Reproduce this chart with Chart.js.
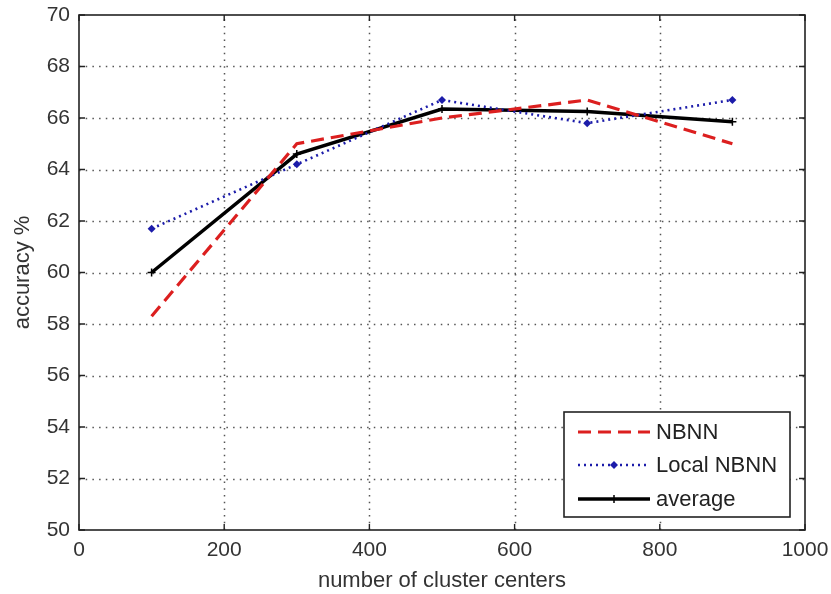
<!DOCTYPE html>
<html>
<head>
<meta charset="utf-8">
<script src="https://cdn.jsdelivr.net/npm/chart.js@4/dist/chart.umd.min.js"></script>
<style>
  html, body { margin: 0; padding: 0; background: #fff; }
  #wrap { width: 831px; height: 594px; position: relative; }
</style>
</head>
<body>
<div id="wrap"><canvas id="c"></canvas></div>
<script>
// ---- data ----
const clusterCenters = [100, 300, 500, 700, 900];
const nbnn = [58.3, 65.0, 66.0, 66.7, 65.0];
const localNbnn = [61.7, 64.2, 66.7, 65.8, 66.7];
const average = [60.0, 64.6, 66.35, 66.25, 65.85];
const seriesLabels = ['NBNN', 'Local NBNN', 'average'];
const xTitle = 'number of cluster centers';
const yTitle = 'accuracy %';

const FONT = "'Liberation Sans', Arial, sans-serif";
const toXY = (ys) => ys.map((y, i) => ({ x: clusterCenters[i], y }));

const boxPlugin = {
  id: 'matlabBox',
  beforeDatasetsDraw(chart) {
    const { ctx, chartArea: a, scales: { x, y } } = chart;
    ctx.save();
    ctx.strokeStyle = '#555';
    ctx.lineWidth = 1.5;
    ctx.setLineDash([1.5, 5.2]);
    x.ticks.forEach(t => {
      const px = Math.round(x.getPixelForValue(t.value)) + 0.5;
      if (px <= a.left + 1 || px >= a.right - 1) return;
      ctx.beginPath(); ctx.moveTo(px, a.bottom); ctx.lineTo(px, a.top); ctx.stroke();
    });
    y.ticks.forEach(t => {
      const py = Math.round(y.getPixelForValue(t.value)) + 0.5;
      if (py <= a.top + 1 || py >= a.bottom - 1) return;
      ctx.beginPath(); ctx.moveTo(a.left, py); ctx.lineTo(a.right, py); ctx.stroke();
    });
    ctx.restore();
  },
  afterDraw(chart) {
    const { ctx, chartArea: a, scales: { x, y } } = chart;
    ctx.save();
    ctx.setLineDash([]);
    ctx.strokeStyle = '#222';
    ctx.lineWidth = 1.6;
    ctx.strokeRect(a.left, a.top, a.right - a.left, a.bottom - a.top);
    const tl = 6;
    ctx.lineWidth = 1.4;
    x.ticks.forEach(t => {
      const px = x.getPixelForValue(t.value);
      ctx.beginPath();
      ctx.moveTo(px, a.bottom); ctx.lineTo(px, a.bottom - tl);
      ctx.moveTo(px, a.top); ctx.lineTo(px, a.top + tl);
      ctx.stroke();
    });
    y.ticks.forEach(t => {
      const py = y.getPixelForValue(t.value);
      ctx.beginPath();
      ctx.moveTo(a.left, py); ctx.lineTo(a.left + tl, py);
      ctx.moveTo(a.right, py); ctx.lineTo(a.right - tl, py);
      ctx.stroke();
    });

    // legend
    const L = { x: 564, y: 412, w: 226, h: 105 };
    ctx.fillStyle = '#fff';
    ctx.fillRect(L.x, L.y, L.w, L.h);
    ctx.strokeStyle = '#222';
    ctx.lineWidth = 1.6;
    ctx.strokeRect(L.x, L.y, L.w, L.h);
    const rows = [432, 465, 499];
    chart.data.datasets.forEach((ds, i) => {
      const ry = rows[i];
      const x0 = L.x + 14, x1 = L.x + 86;
      ctx.save();
      ctx.strokeStyle = ds.borderColor;
      ctx.lineWidth = ds.borderWidth;
      ctx.setLineDash(ds.borderDash || []);
      ctx.beginPath(); ctx.moveTo(x0, ry); ctx.lineTo(x1, ry); ctx.stroke();
      ctx.setLineDash([]);
      const mx = (x0 + x1) / 2;
      if (ds.legendMarker === 'diamond') {
        ctx.fillStyle = ds.borderColor;
        ctx.beginPath();
        ctx.moveTo(mx, ry - 4); ctx.lineTo(mx + 4, ry); ctx.lineTo(mx, ry + 4); ctx.lineTo(mx - 4, ry);
        ctx.closePath(); ctx.fill();
      } else if (ds.legendMarker === 'plus') {
        ctx.lineWidth = 1.5;
        ctx.beginPath(); ctx.moveTo(mx, ry - 4); ctx.lineTo(mx, ry + 4); ctx.stroke();
      }
      ctx.restore();
      ctx.fillStyle = '#222';
      ctx.font = '22px ' + FONT;
      ctx.textAlign = 'left';
      ctx.textBaseline = 'middle';
      ctx.fillText(ds.label, L.x + 92, ry + 1);
    });
    ctx.restore();
  }
};

new Chart(document.getElementById('c'), {
  type: 'line',
  data: {
    datasets: [
      {
        label: seriesLabels[0], data: toXY(nbnn),
        borderColor: '#dc1f1f', borderWidth: 3.2, borderDash: [13, 7],
        pointRadius: 0, fill: false, tension: 0, legendMarker: 'none'
      },
      {
        label: seriesLabels[1], data: toXY(localNbnn),
        borderColor: '#1c1caa', borderWidth: 2.6, borderDash: [2, 4],
        pointStyle: 'rectRot', pointRadius: 4, pointBackgroundColor: '#1c1caa',
        pointBorderColor: '#1c1caa', pointBorderWidth: 0, fill: false, tension: 0,
        legendMarker: 'diamond'
      },
      {
        label: seriesLabels[2], data: toXY(average),
        borderColor: '#000', borderWidth: 3.5,
        pointStyle: 'cross', pointRadius: 4, pointBorderColor: '#000', pointBorderWidth: 1.5,
        fill: false, tension: 0, legendMarker: 'plus'
      }
    ]
  },
  options: {
    responsive: true,
    maintainAspectRatio: false,
    animation: false,
    events: [],
    layout: { padding: { top: 15, right: 26, left: 0, bottom: 0 } },
    plugins: { legend: { display: false }, tooltip: { enabled: false } },
    scales: {
      x: {
        type: 'linear', min: 0, max: 1000,
        ticks: { stepSize: 200, color: '#333', padding: 8, font: { family: FONT, size: 21 }, maxRotation: 0,
                 callback: (v) => String(v) },
        grid: { display: false, drawTicks: false },
        border: { display: false },
        title: { display: true, text: xTitle, color: '#333', font: { family: FONT, size: 22 }, padding: { top: 0, bottom: 0 } },
        afterFit(s) { s.height = 64; s.paddingLeft = 0; s.paddingRight = 0; }
      },
      y: {
        type: 'linear', min: 50, max: 70,
        ticks: { stepSize: 2, color: '#333', padding: 9, font: { family: FONT, size: 21 } },
        grid: { display: false, drawTicks: false },
        border: { display: false },
        title: { display: true, text: yTitle, color: '#333', font: { family: FONT, size: 22 }, padding: { top: 10, bottom: 0 } },
        afterFit(s) { s.width = 79; s.paddingTop = 0; s.paddingBottom = 0; }
      }
    }
  },
  plugins: [boxPlugin]
});
</script>
</body>
</html>
